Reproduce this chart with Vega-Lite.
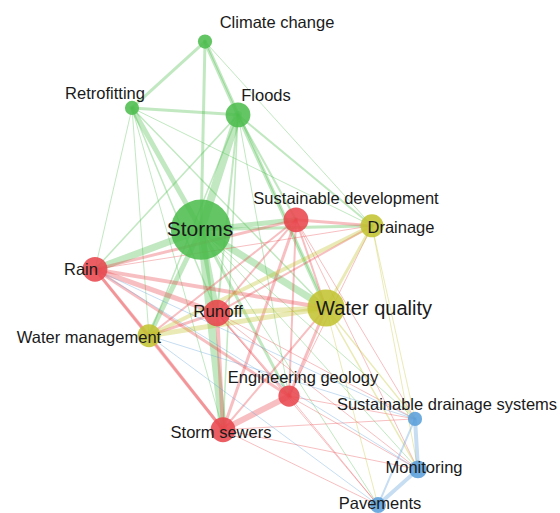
{
  "$schema": "https://vega.github.io/schema/vega-lite/v6.json",
  "width": 560,
  "height": 513,
  "padding": 0,
  "autosize": {"type": "fit", "contains": "padding"},
  "background": "white",
  "config": {"view": {"stroke": null}},
  "resolve": {"scale": {"size": "independent"}},
  "datasets": {
    "nodes": [
      {"id": "Climate change", "cluster": "green", "x": 205, "y": 42, "weight": 16, "lx": 277, "ly": 20},
      {"id": "Retrofitting", "cluster": "green", "x": 132, "y": 109, "weight": 16, "lx": 105, "ly": 92},
      {"id": "Floods", "cluster": "green", "x": 238, "y": 116, "weight": 49, "lx": 266, "ly": 94},
      {"id": "Storms", "cluster": "green", "x": 201, "y": 232, "weight": 289, "lx": 200, "ly": 229},
      {"id": "Sustainable development", "cluster": "red", "x": 296, "y": 222, "weight": 49, "lx": 346, "ly": 198},
      {"id": "Drainage", "cluster": "yellow", "x": 372, "y": 228, "weight": 42, "lx": 401, "ly": 227},
      {"id": "Rain", "cluster": "red", "x": 95, "y": 272, "weight": 49, "lx": 81, "ly": 270},
      {"id": "Runoff", "cluster": "red", "x": 217, "y": 316, "weight": 56, "lx": 218, "ly": 312},
      {"id": "Water quality", "cluster": "yellow", "x": 326, "y": 311, "weight": 110, "lx": 374, "ly": 309},
      {"id": "Water management", "cluster": "yellow", "x": 149, "y": 339, "weight": 42, "lx": 89, "ly": 338},
      {"id": "Engineering geology", "cluster": "red", "x": 289, "y": 400, "weight": 36, "lx": 303, "ly": 379},
      {"id": "Storm sewers", "cluster": "red", "x": 223, "y": 434, "weight": 49, "lx": 221, "ly": 434},
      {"id": "Sustainable drainage systems", "cluster": "blue", "x": 415, "y": 423, "weight": 16, "lx": 447, "ly": 406},
      {"id": "Monitoring", "cluster": "blue", "x": 418, "y": 474, "weight": 25, "lx": 424, "ly": 470},
      {"id": "Pavements", "cluster": "blue", "x": 378, "y": 510, "weight": 20, "lx": 380, "ly": 506}
    ],
    "edges": [
      {"s": "Climate change", "t": "Retrofitting", "w": 3},
      {"s": "Climate change", "t": "Floods", "w": 4},
      {"s": "Climate change", "t": "Storms", "w": 3},
      {"s": "Climate change", "t": "Drainage", "w": 1},
      {"s": "Climate change", "t": "Water quality", "w": 1},
      {"s": "Retrofitting", "t": "Floods", "w": 3},
      {"s": "Retrofitting", "t": "Storms", "w": 5},
      {"s": "Retrofitting", "t": "Rain", "w": 1},
      {"s": "Retrofitting", "t": "Runoff", "w": 1.5},
      {"s": "Retrofitting", "t": "Water management", "w": 1},
      {"s": "Retrofitting", "t": "Water quality", "w": 1.5},
      {"s": "Retrofitting", "t": "Drainage", "w": 1},
      {"s": "Retrofitting", "t": "Storm sewers", "w": 1},
      {"s": "Floods", "t": "Storms", "w": 8},
      {"s": "Floods", "t": "Rain", "w": 1.5},
      {"s": "Floods", "t": "Sustainable development", "w": 2},
      {"s": "Floods", "t": "Drainage", "w": 2},
      {"s": "Floods", "t": "Water quality", "w": 4},
      {"s": "Floods", "t": "Runoff", "w": 2},
      {"s": "Floods", "t": "Storm sewers", "w": 1.5},
      {"s": "Floods", "t": "Engineering geology", "w": 1},
      {"s": "Floods", "t": "Water management", "w": 1.5},
      {"s": "Storms", "t": "Rain", "w": 7},
      {"s": "Storms", "t": "Sustainable development", "w": 5},
      {"s": "Storms", "t": "Drainage", "w": 3},
      {"s": "Storms", "t": "Water quality", "w": 7},
      {"s": "Storms", "t": "Runoff", "w": 6},
      {"s": "Storms", "t": "Water management", "w": 5},
      {"s": "Storms", "t": "Storm sewers", "w": 8},
      {"s": "Storms", "t": "Engineering geology", "w": 3},
      {"s": "Storms", "t": "Sustainable drainage systems", "w": 1},
      {"s": "Storms", "t": "Monitoring", "w": 1},
      {"s": "Storms", "t": "Pavements", "w": 1},
      {"s": "Rain", "t": "Sustainable development", "w": 3},
      {"s": "Rain", "t": "Runoff", "w": 5},
      {"s": "Rain", "t": "Water quality", "w": 4},
      {"s": "Rain", "t": "Water management", "w": 3},
      {"s": "Rain", "t": "Storm sewers", "w": 3},
      {"s": "Rain", "t": "Engineering geology", "w": 3},
      {"s": "Rain", "t": "Drainage", "w": 1},
      {"s": "Sustainable development", "t": "Drainage", "w": 3},
      {"s": "Sustainable development", "t": "Runoff", "w": 2},
      {"s": "Sustainable development", "t": "Storm sewers", "w": 3},
      {"s": "Sustainable development", "t": "Engineering geology", "w": 2},
      {"s": "Sustainable development", "t": "Water quality", "w": 2},
      {"s": "Sustainable development", "t": "Water management", "w": 2},
      {"s": "Sustainable development", "t": "Sustainable drainage systems", "w": 1},
      {"s": "Sustainable development", "t": "Monitoring", "w": 1},
      {"s": "Water quality", "t": "Runoff", "w": 5},
      {"s": "Runoff", "t": "Storm sewers", "w": 4},
      {"s": "Runoff", "t": "Engineering geology", "w": 2},
      {"s": "Runoff", "t": "Water management", "w": 3},
      {"s": "Runoff", "t": "Drainage", "w": 2},
      {"s": "Runoff", "t": "Sustainable drainage systems", "w": 1},
      {"s": "Runoff", "t": "Monitoring", "w": 1},
      {"s": "Runoff", "t": "Pavements", "w": 1},
      {"s": "Engineering geology", "t": "Storm sewers", "w": 6},
      {"s": "Engineering geology", "t": "Water quality", "w": 3},
      {"s": "Engineering geology", "t": "Drainage", "w": 1},
      {"s": "Engineering geology", "t": "Sustainable drainage systems", "w": 1},
      {"s": "Engineering geology", "t": "Monitoring", "w": 1},
      {"s": "Engineering geology", "t": "Pavements", "w": 1},
      {"s": "Storm sewers", "t": "Water management", "w": 3},
      {"s": "Storm sewers", "t": "Water quality", "w": 2},
      {"s": "Storm sewers", "t": "Pavements", "w": 1},
      {"s": "Storm sewers", "t": "Monitoring", "w": 1},
      {"s": "Storm sewers", "t": "Sustainable drainage systems", "w": 1},
      {"s": "Drainage", "t": "Water quality", "w": 3},
      {"s": "Drainage", "t": "Water management", "w": 4},
      {"s": "Drainage", "t": "Sustainable drainage systems", "w": 1},
      {"s": "Drainage", "t": "Monitoring", "w": 1},
      {"s": "Water quality", "t": "Water management", "w": 5},
      {"s": "Water quality", "t": "Sustainable drainage systems", "w": 1.5},
      {"s": "Water quality", "t": "Monitoring", "w": 1.5},
      {"s": "Water quality", "t": "Pavements", "w": 1},
      {"s": "Sustainable drainage systems", "t": "Water management", "w": 1},
      {"s": "Pavements", "t": "Water management", "w": 1},
      {"s": "Sustainable drainage systems", "t": "Monitoring", "w": 4},
      {"s": "Sustainable drainage systems", "t": "Pavements", "w": 2},
      {"s": "Monitoring", "t": "Pavements", "w": 4},
      {"s": "Sustainable drainage systems", "t": "Rain", "w": 1},
      {"s": "Monitoring", "t": "Rain", "w": 1}
    ]
  },
  "layer": [
    {
      "data": {"name": "edges"},
      "transform": [
        {"lookup": "s", "from": {"data": {"name": "nodes"}, "key": "id", "fields": ["x", "y", "cluster"]}, "as": ["sx", "sy", "c"]},
        {"lookup": "t", "from": {"data": {"name": "nodes"}, "key": "id", "fields": ["x", "y"]}, "as": ["tx", "ty"]}
      ],
      "mark": {"type": "rule", "strokeCap": "round", "opacity": 0.35},
      "encoding": {
        "x": {"field": "sx", "type": "quantitative", "scale": {"domain": [0, 560], "nice": false, "zero": false}, "axis": null},
        "y": {"field": "sy", "type": "quantitative", "scale": {"domain": [0, 513], "nice": false, "zero": false, "reverse": true}, "axis": null},
        "x2": {"field": "tx"},
        "y2": {"field": "ty"},
        "color": {"field": "c", "type": "nominal", "scale": {"domain": ["green", "red", "yellow", "blue"], "range": ["#4dbd4d", "#e8474d", "#c3c332", "#5b9fd9"]}, "legend": null},
        "strokeWidth": {"field": "w", "type": "quantitative", "scale": {"domain": [1, 8], "range": [1, 8]}, "legend": null}
      }
    },
    {
      "data": {"name": "nodes"},
      "mark": {"type": "circle", "opacity": 0.88},
      "encoding": {
        "x": {"field": "x", "type": "quantitative", "scale": {"domain": [0, 560], "nice": false, "zero": false}, "axis": null},
        "y": {"field": "y", "type": "quantitative", "scale": {"domain": [0, 513], "nice": false, "zero": false, "reverse": true}, "axis": null},
        "size": {"field": "weight", "type": "quantitative", "scale": {"domain": [0, 289], "range": [0, 3632]}, "legend": null},
        "color": {"field": "cluster", "type": "nominal", "scale": {"domain": ["green", "red", "yellow", "blue"], "range": ["#4dbd4d", "#e8474d", "#c3c332", "#5b9fd9"]}, "legend": null}
      }
    },
    {
      "data": {"name": "nodes"},
      "mark": {"type": "text", "font": "Liberation Sans", "color": "#1a1a1a", "align": "center", "baseline": "middle", "dy": 3},
      "encoding": {
        "x": {"field": "lx", "type": "quantitative", "scale": {"domain": [0, 560], "nice": false, "zero": false}, "axis": null},
        "y": {"field": "ly", "type": "quantitative", "scale": {"domain": [0, 513], "nice": false, "zero": false, "reverse": true}, "axis": null},
        "text": {"field": "id"},
        "size": {"field": "weight", "type": "quantitative", "scale": {"domain": [49, 110, 289], "range": [16.5, 20, 21], "clamp": true}, "legend": null}
      }
    }
  ]
}
